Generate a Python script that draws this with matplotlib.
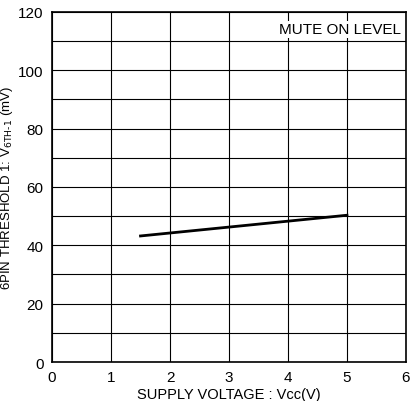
import matplotlib.pyplot as plt
import numpy as np

# Data
vcc = [1.5, 5.0]
vth = [43.2, 50.3]
x_ticks = [0, 1, 2, 3, 4, 5, 6]
y_ticks = [0, 20, 40, 60, 80, 100, 120]
y_grid = np.arange(0, 121, 10)

plt.rcParams['font.family'] = ['Liberation Sans', 'DejaVu Sans']

fig = plt.figure(figsize=(4.13, 4.02), dpi=100)
ax = fig.add_axes([0.126, 0.097, 0.857, 0.871])

ax.plot(vcc, vth, color='black', linewidth=2.0)

ax.set_xlim(0, 6)
ax.set_ylim(0, 120)
ax.set_xticks(x_ticks)
ax.set_yticks(y_ticks)
ax.set_yticks(y_grid, minor=True)
ax.grid(which='both', color='black', linewidth=0.8)
ax.tick_params(which='both', length=0, labelsize=11, pad=6)
for s in ax.spines.values():
    s.set_linewidth(1.2)

ax.set_xlabel("SUPPLY VOLTAGE : Vcc(V)", fontsize=10.5, labelpad=2)
ax.set_ylabel(r"6PIN THRESHOLD 1: V$_{\mathrm{6TH\text{-}1}}$ (mV)", fontsize=9.5, labelpad=2)

ax.text(5.92, 114, "MUTE ON LEVEL", ha='right', va='center', fontsize=11,
        bbox=dict(facecolor='white', edgecolor='none', pad=1))

fig.savefig("out.png", dpi=100)
